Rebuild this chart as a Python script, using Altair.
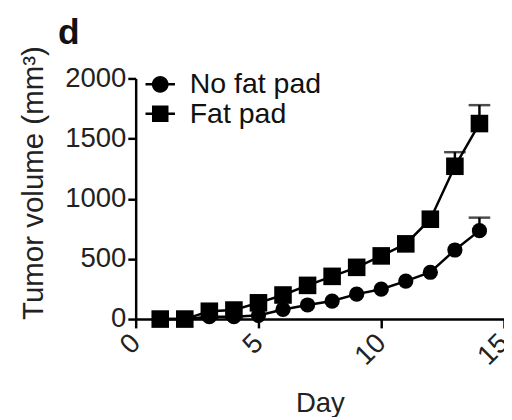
import altair as alt
import pandas as pd

days = list(range(1, 15))
no_fat = [0, 0, 20, 20, 30, 80, 117, 150, 207, 248, 316, 389, 574, 735]
no_fat_err = [0, 0, 0, 0, 0, 0, 0, 0, 0, 0, 0, 0, 0, 108]
fat = [0, 0, 65, 75, 135, 200, 280, 355, 430, 525, 625, 830, 1270, 1625]
fat_err = [0, 0, 0, 0, 0, 0, 0, 0, 0, 0, 0, 0, 117, 153]
groups = ["No fat pad", "Fat pad"]
y_ticks = [0, 500, 1000, 1500, 2000]
x_ticks = [0, 5, 10, 15]

rows = []
for d, v, e in zip(days, no_fat, no_fat_err):
    rows.append({"day": d, "vol": v, "err": e, "hi": v + e, "group": groups[0]})
for d, v, e in zip(days, fat, fat_err):
    rows.append({"day": d, "vol": v, "err": e, "hi": v + e, "group": groups[1]})
df = pd.DataFrame(rows)

FONT = "Liberation Sans"

x = alt.X("day:Q", scale=alt.Scale(domain=[0, 15], nice=False),
          axis=alt.Axis(values=x_ticks, title="Day", labelAngle=315, labelAlign="right",
                        labelBaseline="middle", labelPadding=11, tickSize=9,
                        titleY=94, titleBaseline="alphabetic", titleFontSize=28,
                        titleFontWeight="normal"))
y = alt.Y("vol:Q", scale=alt.Scale(domain=[0, 2000], nice=False),
          axis=alt.Axis(values=y_ticks, format="d", title="Tumor volume (mm³)", tickSize=8,
                        labelPadding=2, titleAngle=270, titleAlign="center",
                        titleBaseline="alphabetic", titleX=-95, titleY=106, titleFontSize=30,
                        titleFontWeight="normal"))

base = alt.Chart(df)

lines = base.mark_line(color="black", strokeWidth=2.5).encode(x=x, y=y, detail="group:N")
errbase = base.transform_filter("datum.err > 0")
errs = errbase.mark_rule(color="black", strokeWidth=2.5).encode(x="day:Q", y="vol:Q", y2="hi:Q")
caps = errbase.mark_tick(color="black", orient="horizontal", size=22, thickness=2.5).encode(
    x="day:Q", y="hi:Q")
points = base.mark_point(filled=True, opacity=1, color="black").encode(
    x="day:Q", y="vol:Q",
    shape=alt.Shape("group:N", scale=alt.Scale(domain=groups, range=["circle", "square"]),
                    legend=None),
    size=alt.Size("group:N", scale=alt.Scale(domain=groups, range=[240, 320]), legend=None),
)

bars = "M-1,-0.085L-0.5,-0.085L-0.5,0.085L-1,0.085Z M0.5,-0.085L1,-0.085L1,0.085L0.5,0.085Z "
circle_path = bars + "M0.57,0A0.57,0.57,0,1,1,-0.57,0A0.57,0.57,0,1,1,0.57,0Z"
square_path = bars + "M-0.56,-0.56L0.56,-0.56L0.56,0.56L-0.56,0.56Z"
legend_layer = base.mark_point(filled=True, size=0, color="black").encode(
    x="day:Q", y="vol:Q",
    shape=alt.Shape("group:N", scale=alt.Scale(domain=groups, range=[circle_path, square_path]),
                    legend=alt.Legend(title=None, orient="none", legendX=10, legendY=-9,
                                      symbolSize=900, symbolStrokeWidth=0,
                                      symbolFillColor="black",
                                      symbolOpacity=1, labelFontSize=29, labelFont=FONT,
                                      labelColor="#111", labelOffset=15, rowPadding=-4,
                                      padding=0)),
)

chart = alt.layer(lines, errs, caps, points, legend_layer).resolve_scale(
    shape="independent", size="independent"
).properties(
    width=375, height=245,
    autosize=alt.AutoSizeParams(type="none"),
    padding={"left": 130, "top": 68, "right": 0, "bottom": 96},
    title=alt.TitleParams("d", anchor="start", frame="group", dx=-79, dy=35, offset=1,
                          baseline="alphabetic", fontSize=36, fontWeight="bold",
                          font=FONT, color="#111"),
).configure_view(stroke=None).configure_axis(
    grid=False, domainColor="black", domainWidth=2.5, tickColor="black", tickWidth=2.5,
    labelFont=FONT, labelFontSize=28, labelColor="#222", titleFont=FONT, titleColor="#222",
)

chart.save("out.html", embed_options={"renderer": "svg", "actions": False})
